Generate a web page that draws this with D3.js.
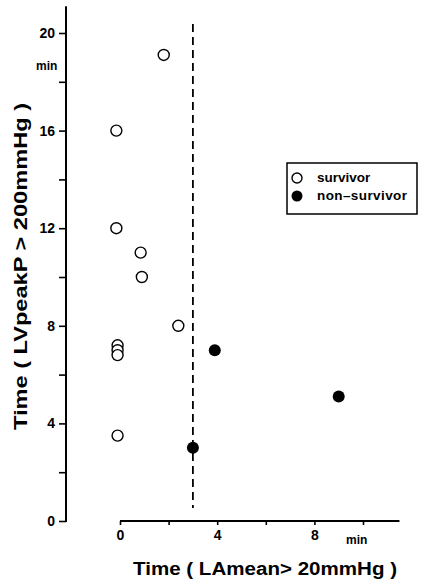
<!DOCTYPE html>
<html lang="en">
<head>
<meta charset="UTF-8">
<title>LVpeakP vs LAmean</title>
<script src="https://d3js.org/d3.v7.min.js"></script>
<style>
  body { margin: 0; background: #fff; }
  svg text { font-family: "Liberation Sans", Arial, sans-serif; fill: #000; }
  .axis path { display: none; }
  .axis line { stroke: #000; stroke-width: 1.6; }
  .axis text { font-size: 14px; font-weight: bold; }
</style>
</head>
<body>
<script>
// survivors (open circles)
const survivorX = [-0.15, 1.8, -0.15, 0.85, 0.9, 2.4, -0.1, -0.1, -0.1, -0.1];
const survivorY = [16, 19.1, 12, 11, 10, 8, 7.2, 7.0, 6.8, 3.5];
// non-survivors (filled circles)
const nonSurvX = [3.0, 3.9, 9.0];
const nonSurvY = [3.0, 7.0, 5.1];

const xTicks = [0, 2, 4, 6, 8, 10];
const yTicks = [0, 2, 4, 6, 8, 10, 12, 14, 16, 18, 20];
const cutoff = 3;

const svg = d3.select("body").append("svg")
  .attr("width", 421)
  .attr("height", 581);

const x = d3.scaleLinear().domain([0, 10]).range([120, 363]);
const y = d3.scaleLinear().domain([0, 20]).range([521, 33]);

// axis lines
svg.append("line")
  .attr("x1", 66).attr("x2", 66)
  .attr("y1", y(0) + 1).attr("y2", y(21.1))
  .attr("stroke", "#000").attr("stroke-width", 2);
svg.append("line")
  .attr("x1", x(0)).attr("x2", x(11.5))
  .attr("y1", y(0)).attr("y2", y(0))
  .attr("stroke", "#000").attr("stroke-width", 2);

// y axis ticks
svg.append("g")
  .attr("class", "axis")
  .attr("transform", "translate(66,0)")
  .call(d3.axisLeft(y).tickValues(yTicks).tickSize(7).tickPadding(4)
    .tickFormat(d => d % 4 === 0 ? d : ""));

// x axis ticks
svg.append("g")
  .attr("class", "axis")
  .attr("transform", "translate(0," + y(0) + ")")
  .call(d3.axisBottom(x).tickValues(xTicks).tickSize(4).tickPadding(5)
    .tickFormat(d => d % 4 === 0 ? d : ""));

// units
svg.append("text").attr("x", 36).attr("y", 70)
  .attr("font-size", 12).attr("font-weight", "bold").text("min");
svg.append("text").attr("x", 346).attr("y", 544)
  .attr("font-size", 12).attr("font-weight", "bold").text("min");

// cutoff line
svg.append("line")
  .attr("x1", x(cutoff)).attr("x2", x(cutoff))
  .attr("y1", 24).attr("y2", 508)
  .attr("stroke", "#000").attr("stroke-width", 1.8)
  .attr("stroke-dasharray", "8,5");

// points
svg.append("g").selectAll("circle")
  .data(d3.zip(survivorX, survivorY))
  .join("circle")
  .attr("cx", d => x(d[0]))
  .attr("cy", d => y(d[1]))
  .attr("r", 5.5)
  .attr("fill", "#fff")
  .attr("stroke", "#000")
  .attr("stroke-width", 1.4);

svg.append("g").selectAll("circle")
  .data(d3.zip(nonSurvX, nonSurvY))
  .join("circle")
  .attr("cx", d => x(d[0]))
  .attr("cy", d => y(d[1]))
  .attr("r", 6)
  .attr("fill", "#000");

// legend
const leg = svg.append("g");
leg.append("rect")
  .attr("x", 287).attr("y", 163)
  .attr("width", 130).attr("height", 51)
  .attr("fill", "none").attr("stroke", "#000").attr("stroke-width", 1.5);
leg.append("circle").attr("cx", 297).attr("cy", 178).attr("r", 5)
  .attr("fill", "#fff").attr("stroke", "#000").attr("stroke-width", 1.4);
leg.append("circle").attr("cx", 297).attr("cy", 196).attr("r", 5.5)
  .attr("fill", "#000");
leg.append("text").attr("x", 317).attr("y", 182)
  .attr("font-size", 13.5).attr("font-weight", "bold").text("survivor");
leg.append("text").attr("x", 317).attr("y", 200)
  .attr("font-size", 13.5).attr("font-weight", "bold")
  .attr("textLength", 90).text("non\u2013survivor");

// axis titles
svg.append("text")
  .attr("transform", "translate(27,430) rotate(-90)")
  .attr("font-size", 18).attr("font-weight", "bold")
  .attr("textLength", 327).attr("lengthAdjust", "spacingAndGlyphs")
  .text("Time ( LVpeakP > 200mmHg )");

svg.append("text")
  .attr("x", 133).attr("y", 575)
  .attr("font-size", 18).attr("font-weight", "bold")
  .attr("textLength", 264).attr("lengthAdjust", "spacingAndGlyphs")
  .text("Time ( LAmean> 20mmHg )");
</script>
</body>
</html>
